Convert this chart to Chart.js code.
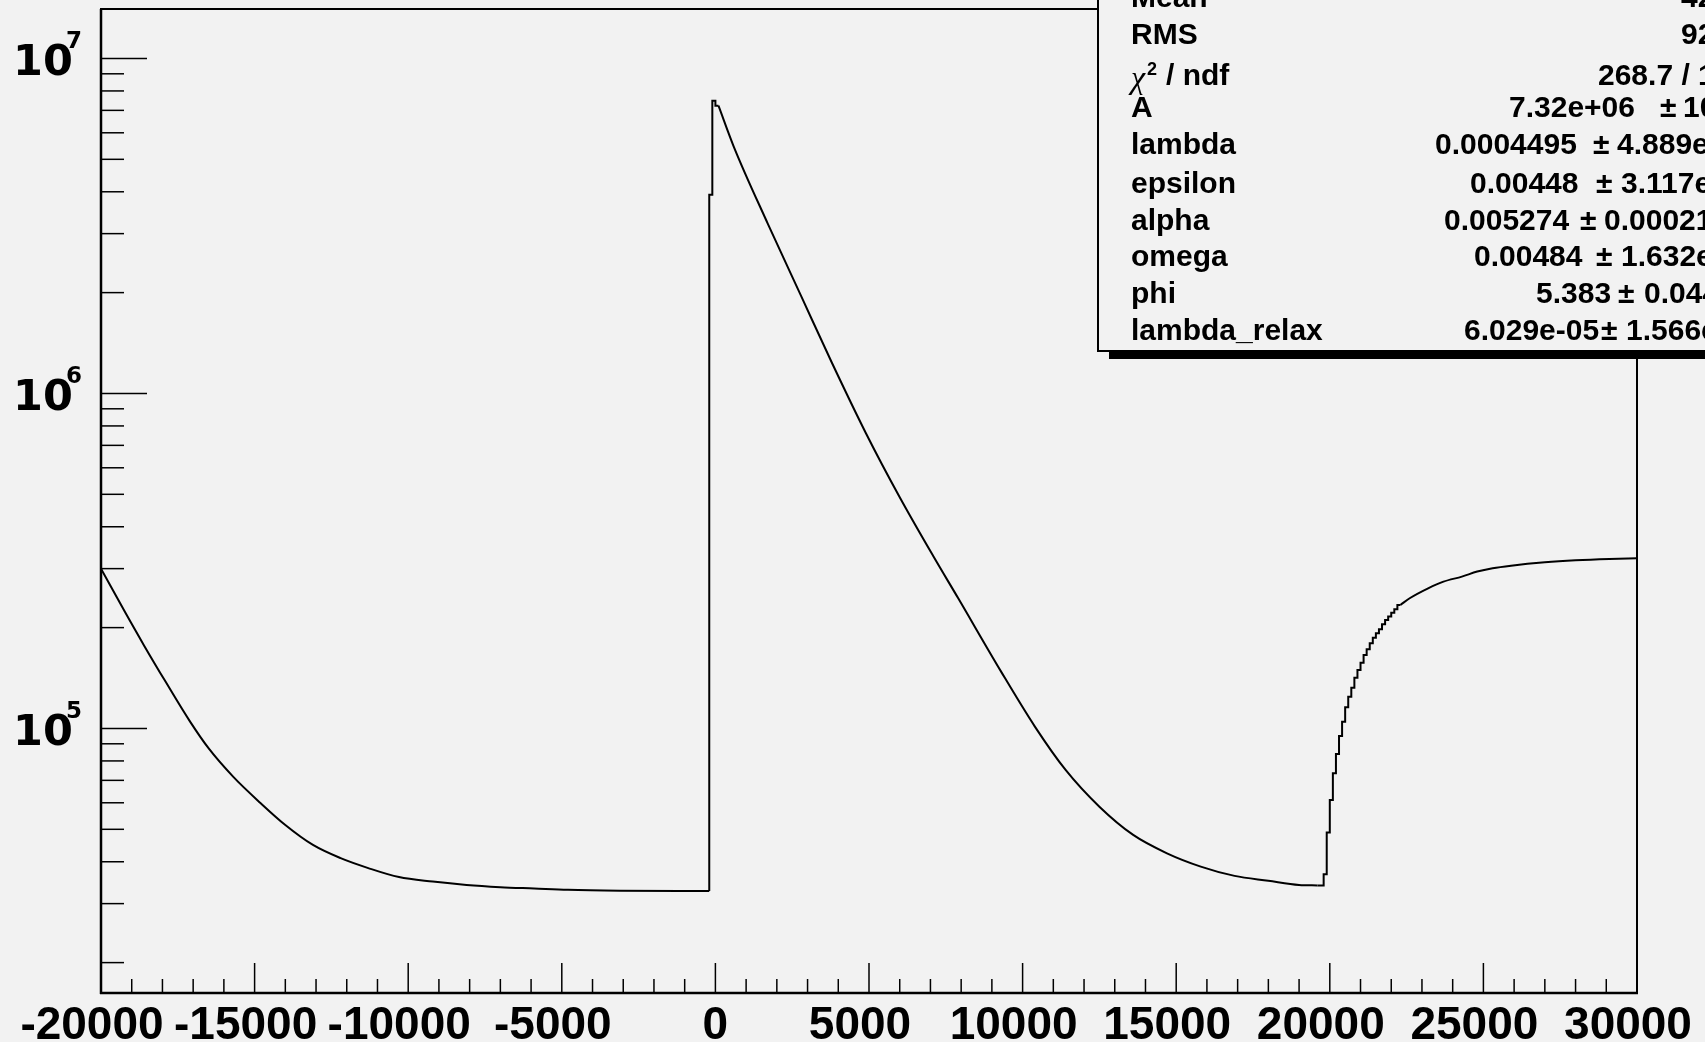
<!DOCTYPE html>
<html lang="en">
<head>
  <meta charset="UTF-8" />
  <title>Time spectrum fit</title>
  <script src="https://cdn.jsdelivr.net/npm/chart.js"></script>
  <style>
    html, body { margin: 0; padding: 0; background: #f2f2f2; overflow: hidden; }
    canvas { display: block; }
  </style>
</head>
<body>
  <canvas id="spectrum" width="1705" height="1042"></canvas>

  <script>
    // tail before the kick (smooth part)
    const leftX = [-20000, -19200, -18600, -17900, -17100, -16500, -15700, -14800, -14000, -13100,
                   -12200, -11300, -10300, -9200, -8100, -7000, -5900, -4800, -3100, -200];
    const leftY = [3.0e5, 2.21e5, 1.77e5, 1.38e5, 1.048e5, 8.73e4, 7.18e4, 5.98e4, 5.15e4, 4.49e4,
                   4.10e4, 3.83e4, 3.60e4, 3.49e4, 3.41e4, 3.36e4, 3.33e4, 3.30e4, 3.28e4, 3.27e4];

    // bins around t = 0 (bin width 100)
    const binWidth = 100;
    const peakBinLo = [-200, -100, 0];
    const peakBinCount = [3.92e6, 7.48e6, 7.23e6];

    // decay after the kick
    const decayX = [600, 1700, 2800, 3800, 4900, 6000, 7100, 7900, 9300, 10400,
                    11400, 12500, 13600, 14700, 15800, 16900, 18000, 19000, 19600];
    const decayY = [5.45e6, 3.22e6, 1.945e6, 1.231e6, 7.61e5, 4.9e5, 3.26e5, 2.45e5, 1.478e5, 1.013e5,
                    7.52e4, 5.84e4, 4.81e4, 4.24e4, 3.87e4, 3.63e4, 3.51e4, 3.41e4, 3.40e4];

    // steep rise around t = 20000
    const riseBinLo = [19700, 19800, 19900, 20000, 20100, 20200, 20300, 20400, 20500, 20600,
                       20700, 20800, 20900, 21000, 21100, 21200, 21300, 21400, 21500, 21600,
                       21700, 21800, 21900, 22000, 22100, 22200];
    const riseBinCount = [3.40e4, 3.67e4, 4.89e4, 6.12e4, 7.35e4, 8.39e4, 9.50e4, 1.048e5, 1.157e5, 1.244e5,
                          1.323e5, 1.418e5, 1.495e5, 1.572e5, 1.658e5, 1.724e5, 1.796e5, 1.866e5, 1.924e5, 1.978e5,
                          2.046e5, 2.108e5, 2.157e5, 2.217e5, 2.269e5, 2.337e5];

    // plateau
    const plateauX = [22600, 23200, 23700, 24300, 24800, 25300, 25900, 27000, 28000, 29100, 30000];
    const plateauY = [2.447e5, 2.62e5, 2.743e5, 2.84e5, 2.94e5, 3.008e5, 3.062e5, 3.134e5, 3.177e5, 3.206e5, 3.22e5];

    const xTickLabels = [-20000, -15000, -10000, -5000, 0, 5000, 10000, 15000, 20000, 25000, 30000];
    const yDecades = [5, 6, 7];

    // stats box (cut by the right/top edge of the picture)
    const statLabels = ['Mean', 'RMS', 'chi2', 'A', 'lambda', 'epsilon', 'alpha', 'omega', 'phi', 'lambda_relax'];
    const statValues = ['4249', '9217', '268.7 / 195', '7.32e+06', '0.0004495', '0.00448', '0.005274', '0.00484', '5.383', '6.029e-05'];
    const statErrors = ['', '', '', '1047', '4.889e-07', '3.117e-07', '0.0002143', '1.632e-07', '0.04471', '1.566e-06'];

    // build the line pieces from the arrays
    function samples(xs, ys) {
      return xs.map((x, i) => ({ x: x, y: ys[i] }));
    }
    function bins(lo, counts) {
      const pts = [];
      lo.forEach((x, i) => {
        pts.push({ x: x, y: counts[i] });
        pts.push({ x: x + binWidth, y: counts[i] });
      });
      return pts;
    }
    const last = arr => arr[arr.length - 1];

    const tail = samples(leftX, leftY);
    const kick = [last(tail)].concat(bins(peakBinLo, peakBinCount));
    const decay = [last(kick)].concat(samples(decayX, decayY));
    const rise = [last(decay)].concat(bins(riseBinLo, riseBinCount));
    const plateau = [last(rise)].concat(samples(plateauX, plateauY));

    function piece(points, smooth) {
      return {
        data: points,
        borderColor: '#000',
        borderWidth: 2,
        pointRadius: 0,
        fill: false,
        tension: 0,
        cubicInterpolationMode: smooth ? 'monotone' : 'default'
      };
    }

    function line(ctx, x1, y1, x2, y2) {
      ctx.beginPath();
      ctx.moveTo(x1, y1);
      ctx.lineTo(x2, y2);
      ctx.stroke();
    }

    // ROOT style frame, inner ticks, labels and stats box
    const rootFrame = {
      id: 'rootFrame',
      afterDraw(chart) {
        const ctx = chart.ctx;
        const a = chart.chartArea;
        const xs = chart.scales.x;
        const ys = chart.scales.y;
        ctx.save();
        ctx.strokeStyle = '#000';
        ctx.fillStyle = '#000';

        // frame
        ctx.lineWidth = 2;
        ctx.strokeRect(a.left, a.top, a.right - a.left, a.bottom - a.top);
        ctx.lineWidth = 2.5;
        line(ctx, a.left, a.top, a.left, a.bottom + 1);
        line(ctx, a.left - 1, a.bottom, a.right + 1, a.bottom);

        // x ticks (inside)
        ctx.lineWidth = 1.5;
        for (let v = xs.min; v <= xs.max; v += 1000) {
          const px = xs.getPixelForValue(v);
          const len = v % 5000 === 0 ? 30 : 14;
          line(ctx, px, a.bottom, px, a.bottom - len);
        }
        // y ticks (inside)
        for (let e = 4; e <= 7; e++) {
          for (let m = 1; m <= 9; m++) {
            const v = m * Math.pow(10, e);
            if (v < ys.min || v > ys.max) continue;
            const py = ys.getPixelForValue(v);
            line(ctx, a.left, py, a.left + (m === 1 ? 46 : 23), py);
          }
        }

        // x labels
        ctx.font = "bold 46px 'Liberation Sans'";
        ctx.textAlign = 'center';
        ctx.textBaseline = 'alphabetic';
        xTickLabels.forEach(v => {
          const px = xs.getPixelForValue(v) - (v === 0 ? 0 : 9);
          ctx.fillText(String(v), px, 1039);
        });

        // y labels 10^n
        ctx.textAlign = 'left';
        yDecades.forEach(e => {
          const py = ys.getPixelForValue(Math.pow(10, e));
          ctx.font = "bold 43px 'DejaVu Sans'";
          ctx.fillText('10', 13, py + 17);
          ctx.font = "bold 23px 'DejaVu Sans'";
          ctx.fillText(String(e), 66, py - 10);
        });

        // stats box
        ctx.fillStyle = '#000';
        ctx.fillRect(1109, 352, 700, 7);
        ctx.fillStyle = '#f2f2f2';
        ctx.fillRect(1098, -10, 700, 361);
        ctx.lineWidth = 2;
        ctx.strokeRect(1098, -10, 700, 361);

        ctx.fillStyle = '#000';
        const baselines = [7, 44, 85, 117, 154, 193, 230, 266, 303, 340];
        const valueX = [1681, 1681, 1598, 1509, 1435, 1470, 1444, 1474, 1536, 1464];
        const pmX = [0, 0, 0, 1660, 1593, 1596, 1580, 1596, 1618, 1601];
        const errX = [0, 0, 0, 1683, 1617, 1621, 1604, 1621, 1644, 1626];
        statLabels.forEach((lab, i) => {
          const by = baselines[i];
          if (lab === 'chi2') {
            ctx.font = "italic 32px 'Liberation Serif'";
            ctx.fillText('\u03c7', 1131, by + 3);
            ctx.font = "bold 18px 'Liberation Sans'";
            ctx.fillText('2', 1147, by - 10);
            ctx.font = "bold 30px 'Liberation Sans'";
            ctx.fillText('/ ndf', 1166, by);
          } else {
            ctx.font = "bold 30px 'Liberation Sans'";
            ctx.fillText(lab, 1131, by);
          }
          ctx.font = "bold 30px 'Liberation Sans'";
          ctx.fillText(statValues[i], valueX[i], by);
          if (statErrors[i]) {
            ctx.fillText('\u00b1', pmX[i], by);
            ctx.fillText(statErrors[i], errX[i], by);
          }
        });
        ctx.restore();
      }
    };

    new Chart(document.getElementById('spectrum'), {
      type: 'line',
      data: {
        datasets: [
          piece(tail, true),
          piece(kick, false),
          piece(decay, true),
          piece(rise, false),
          piece(plateau, true)
        ]
      },
      options: {
        responsive: false,
        animation: false,
        devicePixelRatio: 1,
        layout: { padding: { left: 101, right: 68, top: 9, bottom: 49 } },
        plugins: {
          legend: { display: false },
          tooltip: { enabled: false }
        },
        scales: {
          x: { type: 'linear', min: -20000, max: 30000, display: false },
          y: { type: 'logarithmic', min: 16230, max: 14050000, display: false }
        }
      },
      plugins: [rootFrame]
    });
  </script>
</body>
</html>
